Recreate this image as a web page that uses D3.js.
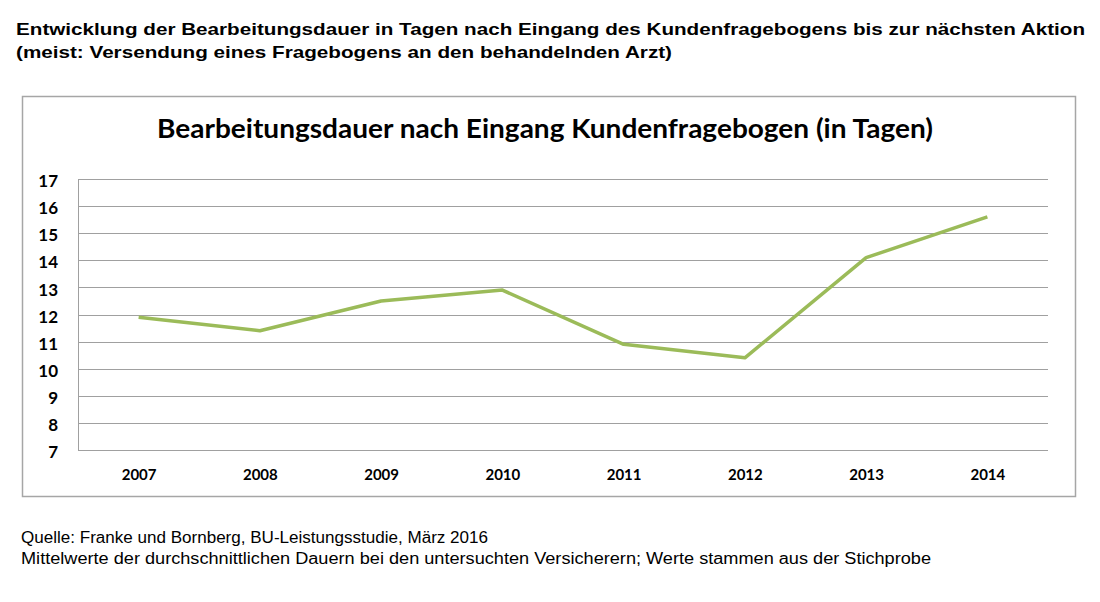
<!DOCTYPE html>
<html>
<head>
<meta charset="utf-8">
<script src="https://cdn.jsdelivr.net/npm/d3@7"></script>
<style>
  body { margin: 0; background: #fff; }
  svg { display: block; }
</style>
</head>
<body>
<svg id="chart"></svg>
<script>
// values
var years = ["2007", "2008", "2009", "2010", "2011", "2012", "2013", "2014"];
var days = [11.9, 11.4, 12.5, 12.9, 10.9, 10.4, 14.1, 15.6];
var yTicks = [7, 8, 9, 10, 11, 12, 13, 14, 15, 16, 17];

var headerLines = [
  "Entwicklung der Bearbeitungsdauer in Tagen nach Eingang des Kundenfragebogens bis zur nächsten Aktion",
  "(meist: Versendung eines Fragebogens an den behandelnden Arzt)"
];
var chartTitle = "Bearbeitungsdauer nach Eingang Kundenfragebogen (in Tagen)";
var footerLines = [
  "Quelle: Franke und Bornberg, BU-Leistungsstudie, März 2016",
  "Mittelwerte der durchschnittlichen Dauern bei den untersuchten Versicherern; Werte stammen aus der Stichprobe"
];

var width = 1100, height = 602;
var plot = { left: 78, right: 1048, top: 179, bottom: 450 };

var svg = d3.select("#chart")
  .attr("width", width)
  .attr("height", height);

// the picture's text is stretched sideways, so fit each line to its measured width
var headerWidths = [1069, 656];
var footerWidths = [467, 910];

svg.selectAll("text.header")
  .data(headerLines)
  .enter().append("text")
  .attr("class", "header")
  .attr("x", 16)
  .attr("y", function (d, i) { return 35 + i * 23; })
  .attr("font-family", "Liberation Sans, Arial, sans-serif")
  .attr("font-weight", "bold")
  .attr("font-size", 17)
  .attr("fill", "#000")
  .attr("textLength", function (d, i) { return headerWidths[i]; })
  .attr("lengthAdjust", "spacingAndGlyphs")
  .text(function (d) { return d; });

// chart frame
svg.append("rect")
  .attr("x", 22.5)
  .attr("y", 96.5)
  .attr("width", 1053)
  .attr("height", 400)
  .attr("fill", "#fff")
  .attr("stroke", "#a6a6a6")
  .attr("stroke-width", 1.5);

svg.append("text")
  .attr("x", 545)
  .attr("y", 138)
  .attr("text-anchor", "middle")
  .attr("font-family", "Lato, Open Sans, sans-serif")
  .attr("font-weight", "bold")
  .attr("font-size", 26)
  .attr("fill", "#000")
  .attr("textLength", 776)
  .attr("lengthAdjust", "spacingAndGlyphs")
  .text(chartTitle);

var x = d3.scalePoint()
  .domain(years)
  .range([plot.left, plot.right])
  .padding(0.5);

var y = d3.scaleLinear()
  .domain([7, 17])
  .range([plot.bottom, plot.top]);

// gridlines
svg.append("g")
  .selectAll("line")
  .data(yTicks)
  .enter().append("line")
  .attr("x1", plot.left)
  .attr("x2", plot.right)
  .attr("y1", function (d) { return Math.round(y(d)) + 0.5; })
  .attr("y2", function (d) { return Math.round(y(d)) + 0.5; })
  .attr("stroke", "#a0a0a0")
  .attr("stroke-width", 1);

// vertical axis line
svg.append("line")
  .attr("x1", plot.left + 0.5)
  .attr("x2", plot.left + 0.5)
  .attr("y1", plot.top)
  .attr("y2", plot.bottom)
  .attr("stroke", "#a0a0a0");

var yAxis = svg.append("g")
  .attr("transform", "translate(" + (plot.left - 20) + ",0)")
  .call(d3.axisLeft(y).tickValues(yTicks).tickSize(0).tickPadding(0));
yAxis.select(".domain").remove();
yAxis.selectAll("text")
  .attr("dy", "0.45em")
  .attr("font-family", "Lato, Open Sans, sans-serif")
  .attr("font-weight", "bold")
  .attr("font-size", 17)
  .attr("fill", "#000");

var xAxis = svg.append("g")
  .attr("transform", "translate(0," + plot.bottom + ")")
  .call(d3.axisBottom(x).tickSize(0).tickPadding(19));
xAxis.select(".domain").remove();
xAxis.selectAll("text")
  .attr("font-family", "Lato, Open Sans, sans-serif")
  .attr("font-weight", "bold")
  .attr("font-size", 15)
  .attr("fill", "#000");

var line = d3.line()
  .x(function (d, i) { return x(years[i]); })
  .y(function (d) { return y(d); });

svg.append("path")
  .datum(days)
  .attr("d", line)
  .attr("fill", "none")
  .attr("stroke", "#9bbb59")
  .attr("stroke-width", 3.5)
  .attr("stroke-linejoin", "round");

// footer
svg.selectAll("text.footer")
  .data(footerLines)
  .enter().append("text")
  .attr("class", "footer")
  .attr("x", 21)
  .attr("y", function (d, i) { return 543 + i * 21; })
  .attr("font-family", "Liberation Sans, Arial, sans-serif")
  .attr("font-size", 16)
  .attr("fill", "#000")
  .attr("textLength", function (d, i) { return footerWidths[i]; })
  .attr("lengthAdjust", "spacingAndGlyphs")
  .text(function (d) { return d; });
</script>
</body>
</html>
